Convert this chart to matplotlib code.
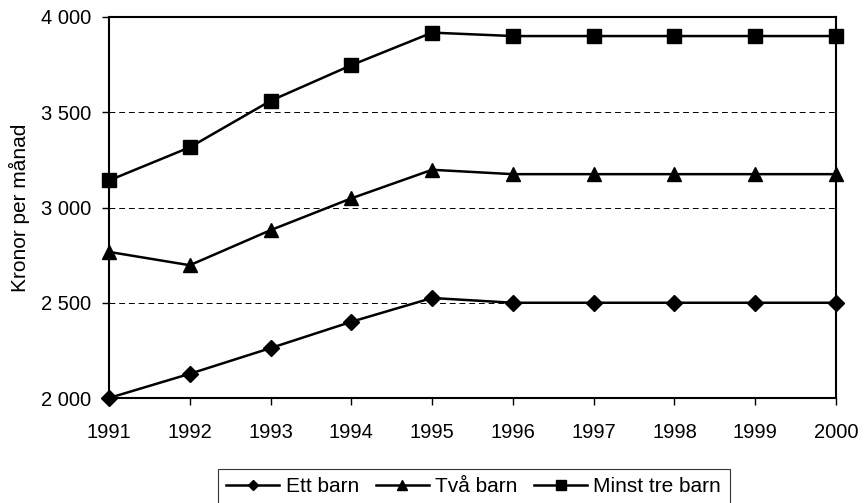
import matplotlib.pyplot as plt
from matplotlib.ticker import FuncFormatter

plt.rcParams['font.family'] = ['Liberation Sans', 'DejaVu Sans']

years = [1991, 1992, 1993, 1994, 1995, 1996, 1997, 1998, 1999, 2000]
ett_barn = [2000, 2127, 2262, 2400, 2525, 2500, 2500, 2500, 2500, 2500]
tva_barn = [2767, 2697, 2881, 3048, 3198, 3175, 3175, 3175, 3175, 3175]
minst_tre = [3142, 3316, 3560, 3747, 3918, 3900, 3900, 3900, 3900, 3900]
y_ticks = [2000, 2500, 3000, 3500, 4000]

fig = plt.figure(figsize=(8.64, 5.03), dpi=100)
ax = fig.add_axes([109 / 864, 1 - 398 / 503, (836 - 109) / 864, (398 - 17) / 503])

ax.plot(years, ett_barn, color='black', lw=1.8, marker='D', ms=8, clip_on=False, label='Ett barn')
ax.plot(years, tva_barn, color='black', lw=1.8, marker='^', ms=10, clip_on=False, label='Två barn')
ax.plot(years, minst_tre, color='black', lw=1.8, marker='s', ms=10, clip_on=False, label='Minst tre barn')

ax.set_xlim(1991, 2000)
ax.set_ylim(2000, 4000)
ax.set_xticks(years)
ax.set_yticks(y_ticks)
ax.yaxis.set_major_formatter(FuncFormatter(lambda v, p: f"{int(v):,}".replace(',', ' ')))
ax.tick_params(labelsize=14.5, length=5, width=1, direction='out')
ax.tick_params(axis='y', pad=8)
ax.tick_params(axis='x', pad=13)
ax.grid(axis='y', color='black', ls=(0, (6, 4)), lw=0.7)
for sp in ax.spines.values():
    sp.set_linewidth(1.5)

ax.set_ylabel('Kronor per månad', fontsize=15, labelpad=8)

ax.legend(loc='upper left', bbox_to_anchor=(218 / 864, 1 - 469 / 503), bbox_transform=fig.transFigure,
          ncol=3, frameon=True, fancybox=False, edgecolor='black', fontsize=15, markerscale=0.7,
          handlelength=2.55, handletextpad=0.3, columnspacing=0.8, borderpad=0.4,
          borderaxespad=0).get_frame().set_linewidth(0.8)

fig.savefig('out.png', dpi=100)
